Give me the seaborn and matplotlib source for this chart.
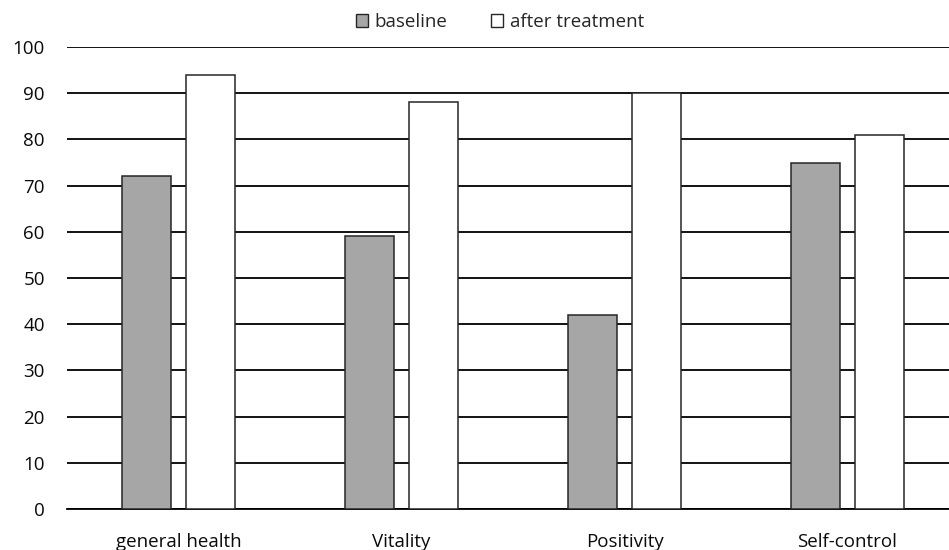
import matplotlib
matplotlib.use("Agg")
import matplotlib.pyplot as plt
import seaborn as sns
import pandas as pd
from matplotlib.patches import Patch

categories = ["general health", "Vitality", "Positivity", "Self-control"]
baseline = [72, 59, 42, 75]
after_treatment = [94, 88, 90, 81]
series_names = ["baseline", "after treatment"]
y_ticks = [0, 10, 20, 30, 40, 50, 60, 70, 80, 90, 100]

df = pd.DataFrame({
    "category": categories * 2,
    "value": baseline + after_treatment,
    "series": [series_names[0]] * 4 + [series_names[1]] * 4,
})

sns.set_theme(style="white")
plt.rcParams["font.family"] = ["Open Sans", "DejaVu Sans"]

fig = plt.figure(figsize=(9.49, 5.5), dpi=100)
ax = fig.add_axes([67 / 949, 1 - 509 / 550, (959 - 67) / 949, (509 - 47) / 550])

colors = {"baseline": "#a6a6a6", "after treatment": "#ffffff"}
sns.barplot(data=df, x="category", y="value", hue="series", order=categories,
            hue_order=series_names, palette=colors, width=0.574, gap=0.22,
            edgecolor="#262626", linewidth=1.1, ax=ax, legend=False, zorder=3)

ax.set_ylim(0, 100)
ax.set_xlim(-0.5, 3.5)
ax.set_yticks(y_ticks)
ax.yaxis.grid(True, color="black", linewidth=1.3, zorder=0)
ax.set_axisbelow(True)
for s in ["left", "right", "top"]:
    ax.spines[s].set_visible(False)
ax.spines["bottom"].set_color("black")
ax.spines["bottom"].set_linewidth(1.3)
ax.tick_params(axis="y", length=0, pad=16, labelsize=13.5, labelcolor="#0a0a0a")
ax.tick_params(axis="x", length=0, pad=17, labelsize=13.5, labelcolor="#0a0a0a")
ax.set_xlabel("")
ax.set_ylabel("")

handles = [Patch(facecolor=colors[n], edgecolor="#262626", linewidth=1.0, label=n) for n in series_names]
fig.legend(handles=handles, loc="center", bbox_to_anchor=(500 / 949, 1 - 22 / 550), ncol=2,
           frameon=False, fontsize=13.5, handlelength=0.65, handleheight=0.65,
           handletextpad=0.35, columnspacing=2.3)

fig.savefig("out.png", dpi=100)
